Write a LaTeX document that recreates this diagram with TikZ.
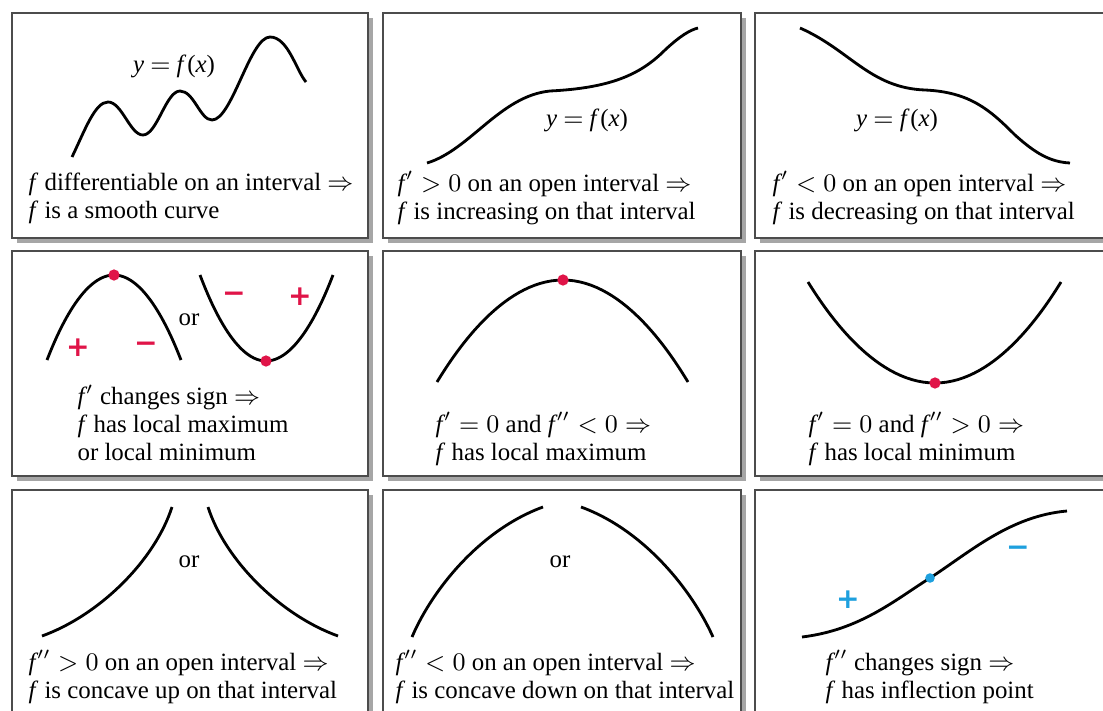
\documentclass[tikz,border=0pt]{standalone}
\usepackage{fontspec}
\setmainfont{Liberation Serif}
\newfontfamily\signfont{DejaVu Sans}
\definecolor{dotred}{RGB}{224,20,72}
\definecolor{infblue}{RGB}{30,160,222}
\newcommand\ff{\textit{f}}
\newcommand\fp{\textit{f}\kern-0.4pt$'$}
\newcommand\fpp{\textit{f}\kern-0.4pt$''$}
\newcommand\yfx{\textit{y} $=$ \textit{f}\kern0.3pt(\textit{x})}

\tikzset{
    panel/.style    = {draw=black!70, line width=0.7pt, fill=white},
    shade/.style    = {fill=black!35},
    curve/.style    = {line width=1pt},
    caption/.style  = {anchor=west, align=left, inner sep=0pt, font=\fontsize{8.85}{9.96}\selectfont},
    label/.style    = {inner sep=0pt, font=\fontsize{8.85}{9.96}\selectfont},
    hotdot/.style   = {circle, fill=#1, inner sep=0pt, minimum size=4pt},
    hotdot/.default = dotred,
    signmark/.style = {text=#1, inner sep=0pt, font=\signfont\bfseries\fontsize{10}{10}\selectfont},
    signmark/.default = dotred
}

\begin{document}
\begin{tikzpicture}[x=0.0125cm, y=-0.0125cm]
    \useasboundingbox (0,0) rectangle (1103,711);
    \clip (0,0) rectangle (1103,711);
    % nine panels
    \foreach \xa/\xb in {12/368, 383/741, 755/1112}
        \foreach \ya/\yb in {13/238, 251/476, 490/730}
        {
            \fill[shade] (\xa+5,\ya+5) rectangle (\xb+5,\yb+5);
            \draw[panel] (\xa,\ya) rectangle (\xb,\yb);
        }

    % smooth curve
    \draw[curve] (72,157) .. controls (85,130) and (95,102) .. (108,102)
                 .. controls (122,102) and (130,135) .. (143,135)
                 .. controls (157,135) and (166,91) .. (180,91)
                 .. controls (194,91) and (200,120) .. (212,120)
                 .. controls (232,120) and (250,37) .. (270,37)
                 .. controls (288,37) and (296,70) .. (306,82);
    \node[label]                    (graph1)  at (174,66)  {\yfx};
    \node[caption]                  (text1)   at (28,198)  {\ff\ differentiable on an interval $\Rightarrow$\\\ff\ is a smooth curve};

    % increasing
    \draw[curve] (427,163) .. controls (470,150) and (500,96) .. (550,91)
                 .. controls (610,88) and (640,75) .. (665,50)
                 .. controls (680,36) and (690,30) .. (698,28);
    \node[label]                    (graph2)  at (587,120) {\yfx};
    \node[caption]                  (text2)   at (397,198) {\fp${}>0$ on an open interval $\Rightarrow$\\\ff\ is increasing on that interval};

    % decreasing
    \draw[curve] (800,28) .. controls (850,50) and (870,88) .. (925,90)
                 .. controls (970,92) and (990,110) .. (1015,135)
                 .. controls (1035,153) and (1050,162) .. (1070,163);
    \node[label]                    (graph3)  at (897,120) {\yfx};
    \node[caption]                  (text3)   at (772,198) {\fp${}<0$ on an open interval $\Rightarrow$\\\ff\ is decreasing on that interval};

    % sign change
    \draw[curve] (47,360) parabola bend (114,275) (181,360);
    \draw[curve] (200,275) parabola bend (266,361) (333,275);
    \node[hotdot]                   (max4)    at (114,275) {};
    \node[hotdot]                   (min4)    at (266,361) {};
    \node[signmark]                 (plus4a)  at (78,348)  {+};
    \node[signmark]                 (minus4a) at (146,347) {−};
    \node[signmark]                 (minus4b) at (234,297) {−};
    \node[signmark]                 (plus4b)  at (300,297) {+};
    \node[label]                    (or4)     at (189,320) {or};
    \node[caption]                  (text4)   at (77,423)  {\fp\ changes sign $\Rightarrow$\\\ff\ has local maximum\\or local minimum};

    % local maximum
    \draw[curve] (437,382) parabola bend (563,280) (688,382);
    \node[hotdot]                   (max5)    at (563,280) {};
    \node[caption]                  (text5)   at (435,439) {\fp${}=0$ and \fpp${}<0\Rightarrow$\\\ff\ has local maximum};

    % local minimum
    \draw[curve] (808,282) parabola bend (935,383) (1061,282);
    \node[hotdot]                   (min6)    at (935,383) {};
    \node[caption]                  (text6)   at (808,439) {\fp${}=0$ and \fpp${}>0\Rightarrow$\\\ff\ has local minimum};

    % concave up
    \draw[curve] (42,636) .. controls (100,615) and (155,560) .. (172,507);
    \draw[curve] (208,507) .. controls (225,560) and (280,615) .. (338,636);
    \node[label]                    (or7)     at (189,562) {or};
    \node[caption]                  (text7)   at (28,677)  {\fpp${}>0$ on an open interval $\Rightarrow$\\\ff\ is concave up on that interval};

    % concave down
    \draw[curve] (412,637) .. controls (432,590) and (480,530) .. (543,507);
    \draw[curve] (581,507) .. controls (644,530) and (692,590) .. (713,637);
    \node[label]                    (or8)     at (560,562) {or};
    \node[caption]                  (text8)   at (395,677) {\fpp${}<0$ on an open interval $\Rightarrow$\\\ff\ is concave down on that interval};

    % inflection
    \draw[curve] (802,637) .. controls (860,630) and (895,600) .. (930,578)
                 .. controls (970,552) and (1010,516) .. (1067,511);
    \node[hotdot=infblue, minimum size=3.4pt] (infl9) at (930,578) {};
    \node[signmark=infblue]         (plus9)   at (848,600) {+};
    \node[signmark=infblue]         (minus9)  at (1018,551) {−};
    \node[caption]                  (text9)   at (825,677) {\fpp\ changes sign $\Rightarrow$\\\ff\ has inflection point};
\end{tikzpicture}
\end{document}
